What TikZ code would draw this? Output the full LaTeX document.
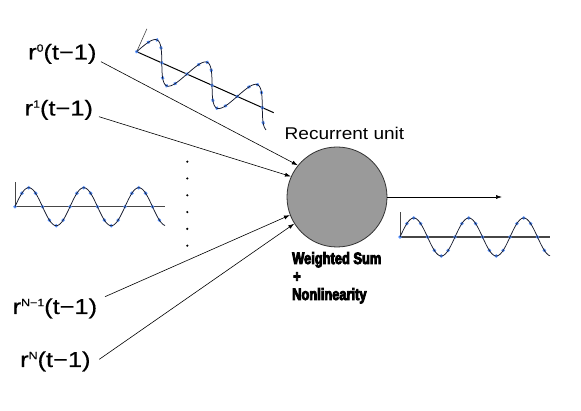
\documentclass[tikz,border=0pt]{standalone}
\usepackage{fontspec}
\setmainfont{Liberation Sans}
\newfontfamily\labfont[FakeStretch=1.18,FakeBold=0.4]{Liberation Sans}
\newfontfamily\titfont[FakeStretch=1.12]{Liberation Sans}
\newfontfamily\impfont[FakeStretch=0.78,BoldFeatures={FakeBold=5}]{Liberation Sans}
\usetikzlibrary{arrows.meta,calc}
\newcommand\sps[1]{\raisebox{7.8pt}{\fontsize{10.5}{10.5}\selectfont #1}}
\definecolor{dotblue}{RGB}{85,145,255}
\definecolor{curvec}{RGB}{20,25,45}
\definecolor{axisc}{RGB}{70,70,70}
\definecolor{unitfill}{RGB}{154,154,154}
\tikzset{
  lab/.style={font=\labfont\fontsize{21.5}{25}\selectfont, inner sep=0pt, anchor=base west},
  wlab/.style={font=\impfont\bfseries\fontsize{16.5}{18}\selectfont, inner sep=0pt, anchor=base west},
  arr/.style={line width=0.6pt, -{Latex[length=6pt,width=4pt]}},
  sinecurve/.style={curvec, line width=0.75pt},
  sineaxis/.style={axisc, line width=1.6pt},
  vaxis/.style={axisc, line width=0.6pt},
  sdot/.style={fill=dotblue},
}
\newcommand\sinewave[1]{%
  \draw[vaxis] (0,0) -- (0,-25);
  \draw[#1] (0,0) -- (150,0);
  \foreach \k in {0,...,21} {\fill[sdot] ({\k*6.875}, {-19*sin(\k*45)}) circle (1.9pt);}
  \draw[sinecurve] plot[domain=0:150, samples=120, smooth] (\x, {-19*sin(6.54545*\x)});
}
\begin{document}
\begin{tikzpicture}[x=1pt, y=-1pt]
\useasboundingbox (0,0) rectangle (581,411);
\fill[white] (0,0) rectangle (581,411);

% unit
\node[circle, draw=black!80, line width=0.8pt, fill=unitfill, minimum size=100pt, inner sep=0pt] (u) at (337,197) {};
\node[font=\titfont\fontsize{17}{20}\selectfont, inner sep=0pt, anchor=base west] (title) at (284.5,139.5) {Recurrent unit};

\node[wlab] (w1) at (292,264) {Weighted Sum};
\node[wlab] (w2) at (293,282) {+};
\node[wlab] (w3) at (292,300) {Nonlinearity};

% labels
\node[lab] (l0) at (28,59.5) {r\sps{0}(t−1)};
\node[lab] (l1) at (24.5,115.5) {r\sps{1}(t−1)};
\node[lab] (lN1) at (12.5,314) {r\sps{N−1}(t−1)};
\node[lab] (lN) at (20,367) {r\sps{N}(t−1)};

\coordinate (s0) at (101,61.7);
\coordinate (s1) at (99,116.7);
\coordinate (sN1) at (105,296.7);
\coordinate (sN) at (99.3,359.3);
\draw[arr] (s0) -- (u.141);
\draw[arr] (s1) -- (u.156.6);
\draw[arr] (sN1) -- (u.201.7);
\draw[arr] (sN) -- (u.212.6);

% output
\coordinate (oe) at (502,197);
\draw[arr] (u.east) -- (oe);

% dots
\foreach \yy in {161.7,178.5,195.3,212.1,228.9,245.7}
  \fill[black] (187.3,\yy) circle (1.2pt);

% waves
\begin{scope}[shift={(15,206.7)}]
  \sinewave{sineaxis}
\end{scope}
\begin{scope}[shift={(400,237)}]
  \sinewave{sineaxis}
\end{scope}
\begin{scope}[shift={(136.7,51.7)}, rotate=-24]
  \sinewave{black, line width=1pt}
\end{scope}
\end{tikzpicture}
\end{document}
